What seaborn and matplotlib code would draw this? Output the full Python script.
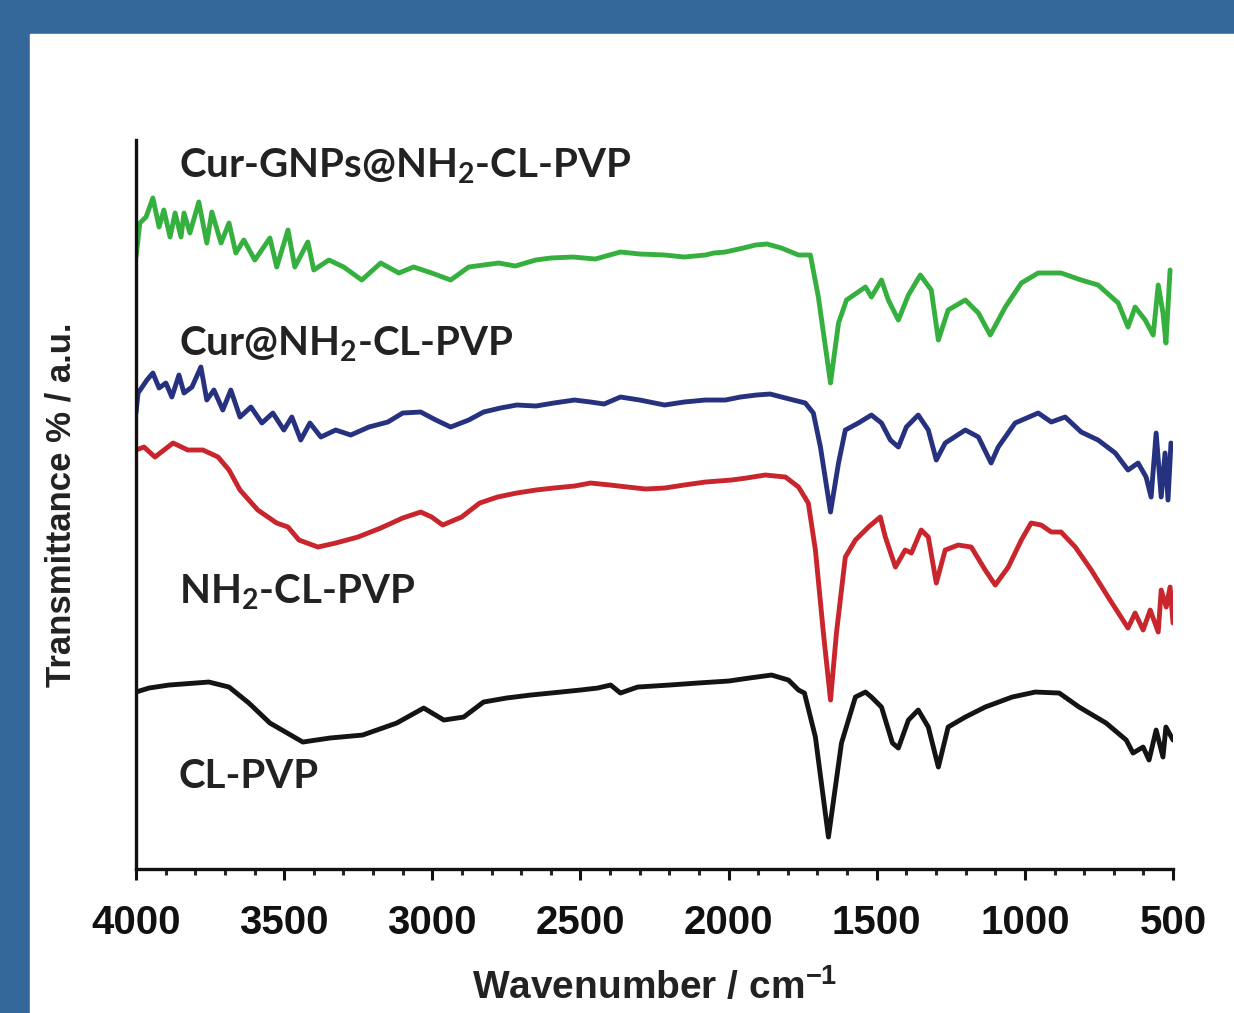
# -*- coding: utf-8 -*-
import matplotlib
matplotlib.use('Agg')
import numpy as np
import pandas as pd
import matplotlib.pyplot as plt
import seaborn as sns
from matplotlib.patches import Rectangle
from matplotlib.ticker import MultipleLocator

sns.set_style('ticks')
plt.rcParams['font.family'] = ['Liberation Sans', 'DejaVu Sans']
plt.rcParams['mathtext.default'] = 'regular'

# 光谱数据 (wavenumber / cm-1, transmittance a.u. with stacking offset)
cl_wn = [4000, 3956, 3889, 3754, 3686, 3619, 3548, 3437, 3346, 3235, 3120, 3029, 2961, 2894,
         2827, 2750, 2668, 2600, 2500, 2442, 2398, 2365, 2307, 2200, 2105, 2000, 1930, 1855,
         1798, 1764, 1744, 1707, 1663, 1619,
         1572, 1538, 1518, 1484, 1447, 1427, 1393, 1360, 1326, 1292, 1259, 1201, 1134, 1043,
         965, 884, 817, 726, 658, 635, 601, 581, 557, 534, 524, 500]
cl_t = [186, 190, 193, 196, 191, 175, 155, 136, 140, 143, 155, 170, 158, 161,
        176, 180, 183, 185, 188, 190, 193, 185, 191, 193, 195, 197, 200, 203,
        198, 188, 185, 141, 41, 135,
        181, 186, 181, 171, 135, 130, 158, 168, 151, 111, 151, 161, 171, 181,
        186, 185, 171, 155, 138, 125, 131, 118, 148, 121, 151, 138]

nh2_wn = [4000, 3973, 3936, 3875, 3825, 3774, 3723, 3686, 3649, 3589, 3525, 3487, 3450, 3386,
          3326, 3251, 3174, 3100, 3039, 3002, 2965, 2901, 2840, 2780, 2715, 2650, 2590, 2520,
          2466, 2400, 2341, 2280, 2216, 2150,
          2078, 1990, 1940, 1876, 1808, 1764, 1731, 1707, 1680, 1656, 1636, 1606, 1572, 1528, 1488,
          1471, 1437, 1404, 1383, 1350, 1326, 1299, 1269, 1225, 1181, 1134, 1100, 1056, 1012,
          979, 945, 911, 878, 830, 776, 719, 652, 628, 601, 577, 550, 540, 523, 510, 500]
nh2_t = [428, 431, 421, 435, 428, 428, 421, 408, 388, 368, 355, 351, 338, 331,
         335, 341, 350, 360, 366, 361, 353, 361, 375, 381, 385, 388, 390, 392,
         395, 393, 391, 389, 390, 393,
         396, 398, 400, 403, 401, 391, 375, 328, 245, 178, 245, 321, 338, 351, 361,
         341, 311, 328, 325, 348, 341, 295, 328, 333, 331, 308, 293, 311, 338,
         355, 353, 346, 346, 331, 308, 281, 250, 265, 248, 268, 246, 288, 271, 291, 255]

cur_wn = [4000, 3993, 3963, 3943, 3922, 3899, 3879, 3855, 3838, 3811, 3781, 3761, 3737, 3707,
          3680, 3649, 3612, 3575, 3538, 3501, 3474, 3444, 3413, 3376, 3326, 3275, 3214, 3150,
          3100, 3039, 2988, 2938, 2877, 2827, 2770, 2715, 2650, 2590, 2520, 2466, 2420, 2365,
          2300, 2216, 2150, 2078, 2011, 1960, 1906, 1860,
          1808, 1741, 1714, 1690, 1656, 1629, 1606, 1562, 1518, 1484, 1454, 1427, 1400, 1360,
          1326, 1299, 1269, 1201, 1157, 1114, 1090, 1033, 955, 911, 864, 810, 753, 695,
          652, 618, 591, 574, 557, 540, 527, 517, 507]
cur_t = [465, 485, 498, 505, 490, 495, 481, 503, 485, 491, 511, 478, 488, 468,
         488, 461, 471, 455, 465, 448, 461, 438, 455, 441, 448, 443, 451, 456,
         465, 466, 458, 451, 458, 466, 470, 473, 472, 475, 478, 476, 474, 481,
         478, 473, 476, 478, 478, 481, 483, 484,
         480, 475, 465, 431, 366, 415, 448, 455, 463, 455, 438, 431, 451, 463,
         448, 418, 435, 448, 441, 415, 431, 455, 465, 456, 461, 446, 438, 425,
         408, 415, 401, 381, 445, 381, 425, 378, 435]

gnp_wn = [4000, 3987, 3966, 3943, 3922, 3906, 3885, 3868, 3848, 3838, 3818, 3788, 3761, 3744,
          3713, 3686, 3663, 3636, 3599, 3548, 3525, 3487, 3464, 3420, 3400, 3349, 3299, 3238,
          3174, 3113, 3063, 3002, 2938, 2877, 2776, 2720, 2651, 2600, 2526, 2450, 2365, 2300,
          2216, 2150, 2078, 2050, 2011, 1950, 1909, 1870,
          1822, 1764, 1724, 1697, 1656, 1629, 1602, 1538, 1518, 1484, 1461, 1427, 1393, 1353,
          1316, 1292, 1259, 1201, 1157, 1117, 1066, 1012, 955, 878, 810, 753, 685, 652,
          628, 594, 567, 550, 534, 524, 510]
gnp_t = [621, 655, 661, 680, 651, 668, 641, 665, 641, 665, 645, 676, 635, 666,
         635, 655, 625, 638, 618, 640, 611, 648, 611, 636, 608, 618, 611, 598,
         615, 605, 611, 605, 598, 611, 615, 612, 618, 620, 621, 619, 626, 624,
         623, 621, 623, 625, 626, 630, 633, 634,
         630, 623, 623, 581, 495, 555, 578, 591, 581, 598, 578, 558, 583, 603,
         588, 538, 568, 578, 565, 543, 571, 595, 605, 605, 598, 593, 575, 551,
         571, 558, 543, 593, 565, 535, 608]

names = ['CL-PVP', 'NH$_{2}$-CL-PVP', 'Cur@NH$_{2}$-CL-PVP', 'Cur-GNPs@NH$_{2}$-CL-PVP']
colors = ['#141414', '#c8252c', '#26327f', '#35b03f']
label_x = 3855
label_y = [90, 274, 522, 700]

df = pd.concat([
    pd.DataFrame({'wn': cl_wn, 't': cl_t, 'sample': names[0]}),
    pd.DataFrame({'wn': nh2_wn, 't': nh2_t, 'sample': names[1]}),
    pd.DataFrame({'wn': cur_wn, 't': cur_t, 'sample': names[2]}),
    pd.DataFrame({'wn': gnp_wn, 't': gnp_t, 'sample': names[3]}),
])

fig = plt.figure(figsize=(12.34, 10.13), dpi=100)
# 蓝色边框
fig.patches.append(Rectangle((0, 0), 1, 1, transform=fig.transFigure, color='#34689a', zorder=-10))
fig.patches.append(Rectangle((30 / 1234, 0), 1, 1 - 34 / 1013, transform=fig.transFigure,
                             color='white', zorder=-9))
ax = fig.add_axes([0.1102, 0.1421, 0.8404, 0.7197])
ax.patch.set_alpha(0)

for name, c in zip(names, colors):
    sub = df[df['sample'] == name]
    sns.lineplot(data=sub, x='wn', y='t', color=c, lw=3.5, ax=ax, legend=False, sort=True)

for name, c, y in zip(names, colors, label_y):
    ax.text(label_x, y, name, fontsize=29, fontweight='bold', color='#222222',
            family=['Lato', 'DejaVu Sans'], va='baseline', ha='left')

ax.set_xlim(4000, 500)
ax.set_ylim(9, 738)
ax.xaxis.set_major_locator(MultipleLocator(500))
ax.xaxis.set_minor_locator(MultipleLocator(100))
ax.set_yticks([])
sns.despine(ax=ax)
for s in ['left', 'bottom']:
    ax.spines[s].set_linewidth(2.4)
    ax.spines[s].set_color('#111111')
ax.tick_params(axis='x', which='major', length=8, width=2.2, direction='out', pad=17,
               labelsize=29, colors='#111111')
ax.tick_params(axis='x', which='minor', length=4.5, width=2.2, direction='out')
for lab in ax.get_xticklabels():
    lab.set_fontweight('bold')

ax.set_xlabel('Wavenumber / cm$^{-1}$', fontsize=28, fontweight='bold', labelpad=19, color='#222222')
ax.set_ylabel('Transmittance % / a.u.', fontsize=25, fontweight='bold', labelpad=42, color='#222222')

fig.savefig('out.png', dpi=100)
